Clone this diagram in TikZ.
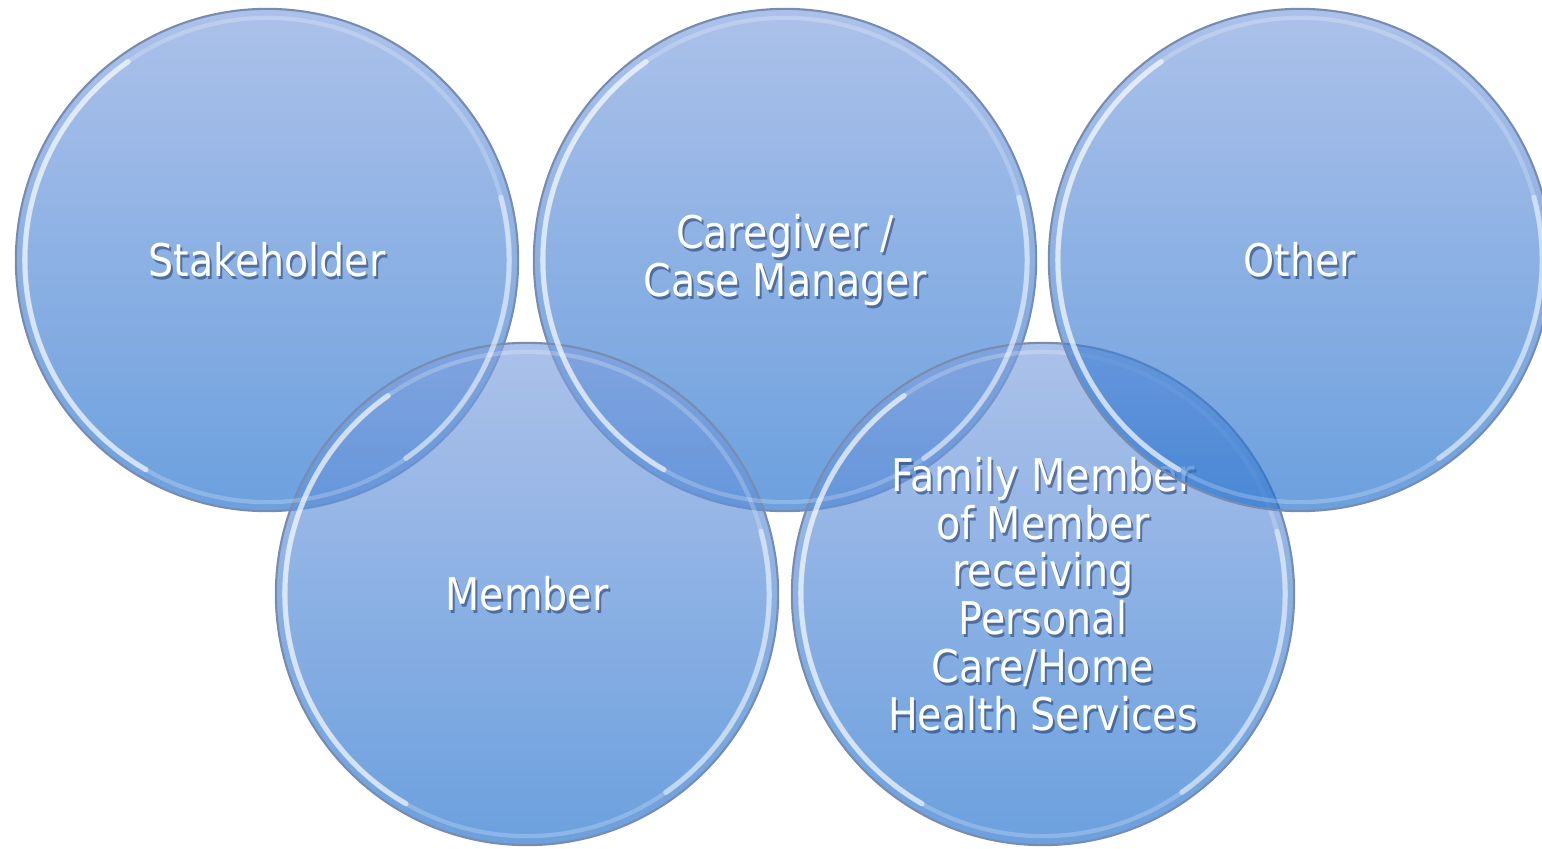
\documentclass[tikz,border=0pt]{standalone}
\usepackage{fontspec}
\setmainfont{DejaVu Sans}[FakeStretch=0.88]
\usepackage{tikz}
\usetikzlibrary{
  positioning,
  calc
}
\definecolor{ballTop}{RGB}{129,161,223}
\definecolor{ballBottom}{RGB}{32,111,205}
\definecolor{ballRim}{RGB}{120,140,178}
\definecolor{textShade}{RGB}{20,45,90}
\tikzstyle{ball}=[circle, minimum size=5.02cm, inner sep=0pt, draw=ballRim, line width=0.6pt,
  top color=ballTop, bottom color=ballBottom, fill opacity=0.66]
\tikzstyle{rimlight}=[white, line width=1.5pt, opacity=0.6, line cap=round]
\tikzstyle{rimfaint}=[white, line width=1.2pt, opacity=0.22]
\tikzstyle{balltext}=[text=white, align=center, font=\fontsize{12.8}{13.6}\selectfont]
\tikzstyle{ballshade}=[balltext, text=textShade, text opacity=0.5]
\setlength{\lineskiplimit}{-100pt}

\begin{document}
\begin{tikzpicture}[x=0.01cm, y=0.01cm]
      \useasboundingbox (0,0) rectangle (1542,848);

      % 円の中心
      \coordinate (cStake)  at (267,588);
      \coordinate (cCare)   at (785,588);
      \coordinate (cOther)  at (1300,588);
      \coordinate (cMember) at (527,254);
      \coordinate (cFamily) at (1043,254);

      % 円
      \node[ball] (stake)  at (cStake)  {};
      \node[ball] (care)   at (cCare)   {};
      \node[ball] (member) at (cMember) {};
      \node[ball] (family) at (cFamily) {};

      % 縁のハイライト
      \foreach \b in {stake,care,member,family} {
        \draw[rimfaint] (\b.center) circle[radius=2.42cm];
        \draw[rimlight] ($(\b.center)+(125:2.42cm)$) arc[start angle=125, end angle=240, radius=2.42cm];
        \draw[rimlight, opacity=0.45] ($(\b.center)+(-55:2.42cm)$) arc[start angle=-55, end angle=15, radius=2.42cm];
      }

      % ラベルの影
      \node[ballshade] at ($(stake)+(2,-3)$)  {Stakeholder};
      \node[ballshade] at ($(care)+(2,-3)$)   {Caregiver /\\Case Manager};
      \node[ballshade] at ($(member)+(2,-3)$) {Member};
      \node[ballshade] at ($(family)+(2,-3)$) {Family Member\\of Member\\receiving\\Personal\\Care/Home\\Health Services};

      % ラベル
      \node[balltext] (stakeLabel)  at (stake)  {Stakeholder};
      \node[balltext] (careLabel)   at (care)   {Caregiver /\\Case Manager};
      \node[balltext] (memberLabel) at (member) {Member};
      \node[balltext] (familyLabel) at (family) {Family Member\\of Member\\receiving\\Personal\\Care/Home\\Health Services};

      % 最後の円（Family Member の文字に重なる）
      \node[ball] (other) at (cOther) {};
      \draw[rimfaint] (other.center) circle[radius=2.42cm];
      \draw[rimlight] ($(other.center)+(125:2.42cm)$) arc[start angle=125, end angle=240, radius=2.42cm];
      \draw[rimlight, opacity=0.45] ($(other.center)+(-55:2.42cm)$) arc[start angle=-55, end angle=15, radius=2.42cm];
      \node[ballshade] at ($(other)+(2,-3)$) {Other};
      \node[balltext] (otherLabel) at (other) {Other};
\end{tikzpicture}
\end{document}
